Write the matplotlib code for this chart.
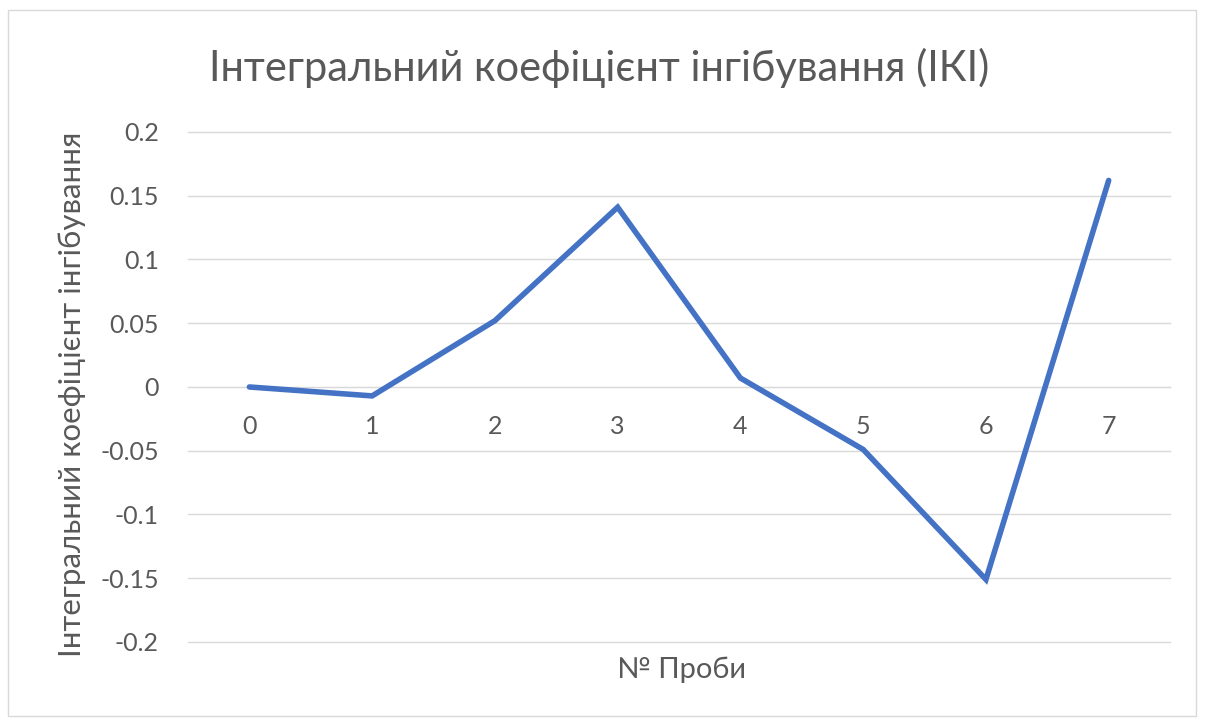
import matplotlib.pyplot as plt
from matplotlib.patches import Rectangle

samples = [0, 1, 2, 3, 4, 5, 6, 7]
iki = [0.0, -0.007, 0.052, 0.141, 0.007, -0.049, -0.151, 0.162]
yticks = [-0.2, -0.15, -0.1, -0.05, 0, 0.05, 0.1, 0.15, 0.2]
ytick_labels = ['-0.2', '-0.15', '-0.1', '-0.05', '0', '0.05', '0.1', '0.15', '0.2']

title = 'Інтегральний коефіцієнт інгібування (ІКІ)'
ylabel = 'Інтегральний коефіцієнт інгібування'
xlabel = '№ Проби'

plt.rcParams['font.family'] = ['Lato', 'DejaVu Sans']
text_color = '#595959'
grid_color = '#D9D9D9'

fig = plt.figure(figsize=(12.06, 7.24), dpi=100)
fig.patches.append(Rectangle((0.007, 0.011), 0.985, 0.975, transform=fig.transFigure,
                             fill=False, edgecolor='#D9D9D9', linewidth=1))

ax = fig.add_axes([0.1559, 0.1133, 0.8143, 0.7044])
ax.plot(samples, iki, color='#4472C4', linewidth=4, solid_capstyle='round',
        solid_joinstyle='miter', zorder=3)

ax.set_xlim(-0.5, 7.5)
ax.set_ylim(-0.2, 0.2)
ax.set_yticks(yticks)
ax.set_yticklabels(ytick_labels)
ax.set_xticks(samples)
ax.set_xticklabels([str(s) for s in samples])

ax.grid(axis='y', color=grid_color, linewidth=1)
for gl in ax.get_ygridlines():
    gl.set_clip_on(False)
ax.set_axisbelow(True)
for side in ['top', 'right', 'left']:
    ax.spines[side].set_visible(False)
ax.spines['bottom'].set_position(('data', 0))
ax.spines['bottom'].set_color(grid_color)
ax.tick_params(axis='both', length=0, labelsize=18, labelcolor=text_color)
ax.tick_params(axis='x', pad=20)
ax.tick_params(axis='y', pad=21)

fig.text(0.0597, 0.456, ylabel, fontsize=22.5, color=text_color, rotation=90,
         ha='center', va='center')
fig.text(0.5647, 0.0746, xlabel, fontsize=21, color=text_color, ha='center', va='center')
fig.text(0.497, 0.906, title, fontsize=30, color=text_color, ha='center', va='center')

fig.savefig('out.png', dpi=100)
